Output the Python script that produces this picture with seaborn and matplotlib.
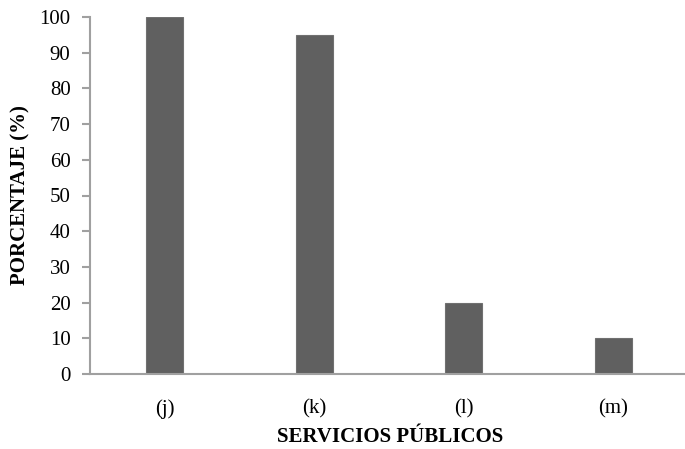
import matplotlib
matplotlib.use("Agg")
import matplotlib.pyplot as plt
import seaborn as sns
import pandas as pd

# data
servicios = ["(j)", "(k)", "(l)", "(m)"]
porcentaje = [100, 95, 20, 10]

sns.set_theme(style="white")
plt.rcParams['font.family'] = ['Liberation Serif', 'DejaVu Serif']

df = pd.DataFrame({"servicio": servicios, "porcentaje": porcentaje})

fig = plt.figure(figsize=(6.85, 4.49), dpi=100)
ax = fig.add_axes([90 / 685, 75 / 449, 598 / 685, 357 / 449])

sns.barplot(data=df, x="servicio", y="porcentaje", color="#606060",
            width=0.25, saturation=1, edgecolor="#707070", linewidth=0.8, ax=ax)

ax.set_xlim(-0.5, 3.5)
ax.set_ylim(0, 100)
ax.set_yticks(range(0, 101, 10))
ax.tick_params(axis="y", which="both", left=True, length=6, width=1.5,
               color="#a0a0a0", labelsize=15, pad=8, labelcolor="black")
ax.tick_params(axis="x", bottom=False, labelsize=15, pad=12, labelcolor="black")

for side in ["top", "right"]:
    ax.spines[side].set_visible(False)
for side in ["left", "bottom"]:
    ax.spines[side].set_color("#a0a0a0")
    ax.spines[side].set_linewidth(1.5)

ax.set_xlabel("SERVICIOS PÚBLICOS", fontsize=15, fontweight="bold", color="black")
ax.set_ylabel("PORCENTAJE (%)", fontsize=15, fontweight="bold", color="black")
ax.xaxis.set_label_coords((390 - 90) / 598, -0.148)
ax.yaxis.set_label_coords(-0.099, 0.5)

fig.savefig("out.png", dpi=100)
